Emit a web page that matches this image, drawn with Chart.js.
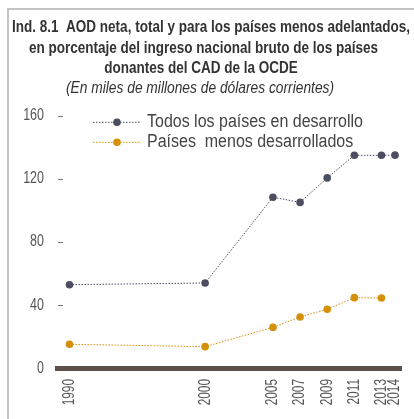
<!DOCTYPE html>
<html>
<head>
<meta charset="utf-8">
<script src="https://cdn.jsdelivr.net/npm/chart.js@4"></script>
<style>
  html, body { margin: 0; padding: 0; background: #fff; }
  #frame {
    position: absolute; left: 7px; top: 8px; width: 407px; height: 411px;
    border-top: 2px solid #c4c4c4; border-left: 2px solid #c4c4c4;
    box-sizing: border-box;
  }
  #chartContainer { position: absolute; left: 0; top: 0; width: 414px; height: 419px; }
</style>
</head>
<body>
<div id="frame"></div>
<div id="chartContainer"><canvas id="myChart"></canvas></div>
<script>
var FONT = "'Liberation Sans', Arial, sans-serif";

// Jahre und Werte (miles de millones de dólares)
var years = [1990, 2000, 2005, 2007, 2009, 2011, 2013, 2014];
var todosPaises = [52.9, 54.0, 108.3, 105.0, 120.5, 134.8, 134.8, 134.9];
var paisesMenos = [15.2, 13.7, 25.9, 32.5, 37.4, 44.7, 44.5, null];
var seriesNames = ['Todos los países en desarrollo', 'Países  menos desarrollados'];
var yTicks = [0, 40, 80, 120, 160];

var titleLines = [
    'Ind. 8.1  AOD neta, total y para los países menos adelantados,',
    'en porcentaje del ingreso nacional bruto de los países',
    'donantes del CAD de la OCDE'
];
var subtitleText = '(En miles de millones de dólares corrientes)';

function toPoints(values) {
    var pts = [];
    values.forEach(function (v, i) {
        if (v !== null) pts.push({ x: years[i], y: v });
    });
    return pts;
}

// Schmale Schrift nachbilden: Text horizontal stauchen
function drawNarrow(ctx, text, x, y, k, align, rotate) {
    ctx.save();
    ctx.translate(x, y);
    if (rotate) ctx.rotate(-Math.PI / 2);
    ctx.scale(k, 1);
    ctx.textAlign = align || 'left';
    ctx.fillText(text, 0, 0);
    ctx.restore();
}

// Titel + Untertitel
var titlePlugin = {
    id: 'titlePlugin',
    afterDraw: function (chart) {
        var ctx = chart.ctx;
        ctx.save();
        ctx.fillStyle = '#333';
        ctx.textBaseline = 'alphabetic';
        ctx.font = 'bold 16px ' + FONT;
        var k = 398 / ctx.measureText(titleLines[0]).width;
        var centers = [211, 203.5, 201];
        var baselines = [31.5, 52.5, 72.5];
        titleLines.forEach(function (line, i) {
            drawNarrow(ctx, line, centers[i], baselines[i], k, 'center');
        });
        ctx.font = 'italic 16px ' + FONT;
        drawNarrow(ctx, subtitleText, 200, 93, k * 1.02, 'center');
        ctx.restore();
    }
};

// Legende: gepunktete Linie mit Punkt in der Mitte
var lineLegend = {
    id: 'lineLegend',
    afterDraw: function (chart) {
        var ctx = chart.ctx;
        ctx.save();
        ctx.font = '18px ' + FONT;
        var k = 216 / ctx.measureText(seriesNames[0]).width;
        chart.data.datasets.forEach(function (ds, i) {
            var y = 122.3 + i * 20;
            ctx.strokeStyle = ds.borderColor;
            ctx.lineWidth = 1;
            ctx.setLineDash([1.5, 1.5]);
            ctx.beginPath();
            ctx.moveTo(93, y);
            ctx.lineTo(140, y);
            ctx.stroke();
            ctx.setLineDash([]);
            ctx.fillStyle = ds.pointBackgroundColor;
            ctx.beginPath();
            ctx.arc(117, y, 3.8, 0, Math.PI * 2);
            ctx.fill();
            ctx.fillStyle = '#444';
            ctx.textBaseline = 'alphabetic';
            drawNarrow(ctx, ds.label, 147, y + 4.6, k, 'left');
        });
        ctx.restore();
    }
};

// Achsenbeschriftungen und kleine Striche an der y-Achse
var axisLabels = {
    id: 'axisLabels',
    afterDraw: function (chart) {
        var ctx = chart.ctx;
        var xScale = chart.scales.x;
        var yScale = chart.scales.y;
        ctx.save();
        ctx.font = '16px ' + FONT;
        ctx.fillStyle = '#555';
        ctx.strokeStyle = '#777';
        ctx.lineWidth = 1;
        yScale.ticks.forEach(function (t) {
            var py = yScale.getPixelForValue(t.value);
            ctx.textBaseline = 'middle';
            drawNarrow(ctx, String(t.value), 44, py, 0.78, 'right');
            if (t.value === 0) return;
            var ly = Math.round(py) + 0.5;
            ctx.beginPath();
            ctx.moveTo(58, ly);
            ctx.lineTo(63, ly);
            ctx.stroke();
        });
        xScale.ticks.forEach(function (t) {
            var px = xScale.getPixelForValue(t.value);
            ctx.textBaseline = 'middle';
            drawNarrow(ctx, String(t.value), px, 379, 0.74, 'right', true);
        });
        ctx.restore();
    }
};

var ctx = document.getElementById('myChart').getContext('2d');
var myChart = new Chart(ctx, {
    type: 'line',
    data: {
        datasets: [{
            label: seriesNames[0],
            data: toPoints(todosPaises),
            borderColor: '#4b4e61',
            borderWidth: 1,
            borderDash: [1.5, 1.5],
            pointRadius: 3.8,
            pointBackgroundColor: '#4b4e61',
            pointBorderWidth: 0,
            clip: false,
            tension: 0
        }, {
            label: seriesNames[1],
            data: toPoints(paisesMenos),
            borderColor: '#d8900e',
            borderWidth: 1,
            borderDash: [1.5, 1.5],
            pointRadius: 3.8,
            pointBackgroundColor: '#d48f0b',
            pointBorderWidth: 0,
            clip: false,
            tension: 0
        }]
    },
    options: {
        responsive: true,
        maintainAspectRatio: false,
        animation: false,
        layout: { padding: { left: 0, right: 13, top: 115.5, bottom: 0 } },
        plugins: {
            legend: { display: false },
            tooltip: { enabled: false },
            title: { display: false }
        },
        scales: {
            x: {
                type: 'linear',
                min: 1989.08,
                max: 2014.44,
                afterBuildTicks: function (scale) {
                    scale.ticks = years.map(function (y) { return { value: y }; });
                },
                afterFit: function (scale) { scale.height = 50.7; },
                ticks: { display: false },
                grid: { display: false, drawTicks: false },
                border: { display: true, color: '#5e5049', width: 5 }
            },
            y: {
                min: 0,
                max: 160,
                afterBuildTicks: function (scale) {
                    scale.ticks = yTicks.map(function (v) { return { value: v }; });
                },
                afterFit: function (scale) { scale.width = 57; },
                ticks: { display: false },
                grid: { display: false, drawTicks: false },
                border: { display: false }
            }
        }
    },
    plugins: [titlePlugin, lineLegend, axisLabels]
});
</script>
</body>
</html>
